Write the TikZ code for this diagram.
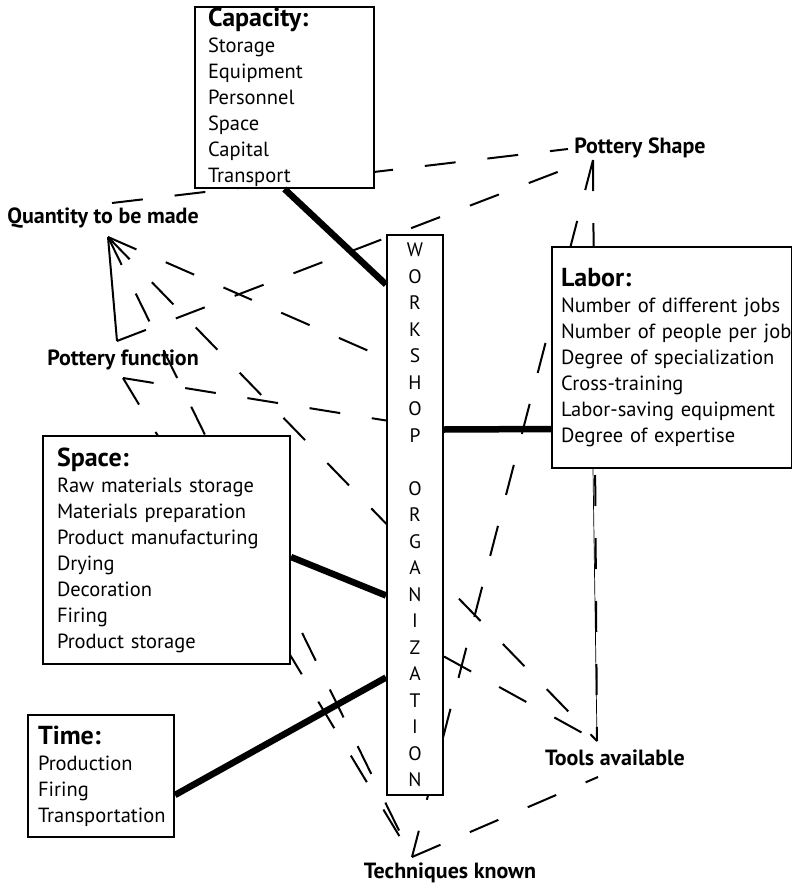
\documentclass[tikz,border=0pt]{standalone}
\usepackage{fontspec}
\setmainfont{PT Sans}
\usetikzlibrary{backgrounds}
\hyphenpenalty=10000
\exhyphenpenalty=10000
\newcommand{\boxhead}[1]{\textbf{\fontsize{26bp}{26bp}\selectfont #1}}

\begin{document}
\begin{tikzpicture}[
    x=1bp, y=-1bp,
    font=\fontsize{20.5bp}{26bp}\selectfont,
    box/.style={draw, line width=2bp, fill=white, align=left, anchor=north west, inner ysep=0pt},
    tag/.style={font=\bfseries\fontsize{22bp}{24bp}\selectfont, inner sep=2bp},
    link/.style={line width=2bp, dash pattern=on 31bp off 32bp},
    bond/.style={line width=6.5bp},
]
    \useasboundingbox (0,0) rectangle (792,887);
    % factor boxes
    \node[box, minimum width=179bp, minimum height=181bp, text width=153bp, inner xsep=13bp] (cap) at (194,6)
        {\boxhead{Capacity:}\\Storage\\Equipment\\Personnel\\Space\\Capital\\Transport};
    \node[box, minimum width=240bp, minimum height=221bp, text width=222bp, inner xsep=9bp] (labor) at (551,246)
        {\boxhead{Labor:}\\Number of different jobs\\\mbox{Number of people per job}\\Degree of specialization\\Cross-training\\Labor-saving equipment\\Degree of expertise};
    \node[box, minimum width=247bp, minimum height=228bp, text width=219bp, inner xsep=14bp] (space) at (42,435)
        {\boxhead{Space:}\\Raw materials storage\\Materials preparation\\Product manufacturing\\Drying\\Decoration\\Firing\\Product storage};
    \node[box, minimum width=146bp, minimum height=122bp, text width=126bp, inner xsep=10bp] (time) at (27,714)
        {\boxhead{Time:}\\Production\\Firing\\Transportation};
    \node[box, anchor=center, align=center, minimum width=56bp, minimum height=559bp, inner sep=0pt,
        font=\fontsize{19.5bp}{26.5bp}\selectfont] (work) at (415,515)
        {W\\O\\R\\K\\S\\H\\O\\P\\[26.5bp]O\\R\\G\\A\\N\\I\\Z\\A\\T\\I\\O\\N};
    % loose factors
    \node[tag] (qty) at (103,218) {Quantity to be made};
    \node[tag] (func) at (123,360) {Pottery function};
    \node[tag] (shape) at (640,148) {Pottery Shape};
    \node[tag] (tools) at (615,758) {Tools available};
    \node[tag] (tech) at (450,873) {Techniques known};
    \coordinate (qtop) at ([xshift=9bp,yshift=15bp]qty.center);
    \coordinate (qfan) at ([xshift=5bp,yshift=-19bp]qty.center);
    \coordinate (ftop) at ([xshift=-6bp,yshift=19bp]func.center);
    \coordinate (fbot) at ([yshift=-18bp]func.center);
    \coordinate (shpW) at ([xshift=-72bp,yshift=-1bp]shape.center);
    \coordinate (shpL) at ([xshift=-72bp,yshift=-20bp]shape.center);
    \coordinate (shpB) at ([xshift=-47bp,yshift=-12bp]shape.center);
    \coordinate (ttop) at ([xshift=-18bp,yshift=17bp]tools.center);
    \coordinate (tbot) at ([xshift=-17bp,yshift=-19bp]tools.center);
    \coordinate (ktop) at ([xshift=-38bp,yshift=16bp]tech.center);
    \coordinate (wQ) at ([yshift=-124bp]work.north west);
    \coordinate (wF) at ([yshift=-186bp]work.north west);
    \coordinate (wT) at ([yshift=-422bp]work.north east);
    \begin{scope}[on background layer]
        \foreach \a/\b in {qtop/shpW,ftop/shpL,qfan/wQ,qfan/ttop,qfan/ktop,fbot/wF,fbot/ktop,shpB/ktop,shpB/ttop,wT/ttop,ktop/tbot}
            \draw[link] (\a) -- (\b);
        \draw[line width=2bp] (qfan) -- (ftop);
        \draw[line width=0.7bp] ([xshift=42bp]labor.south west) -- (ttop);
    \end{scope}
    % links to the workshop
    \draw[bond] (cap.south) -- ([yshift=-50bp]work.north west);
    \draw[bond] ([yshift=-195bp]work.north east) -- ([yshift=-183bp]labor.north west);
    \draw[bond] ([yshift=-122bp]space.north east) -- ([yshift=-361bp]work.north west);
    \draw[bond] ([yshift=-81bp]time.north east) -- ([yshift=-443bp]work.north west);
\end{tikzpicture}
\end{document}
